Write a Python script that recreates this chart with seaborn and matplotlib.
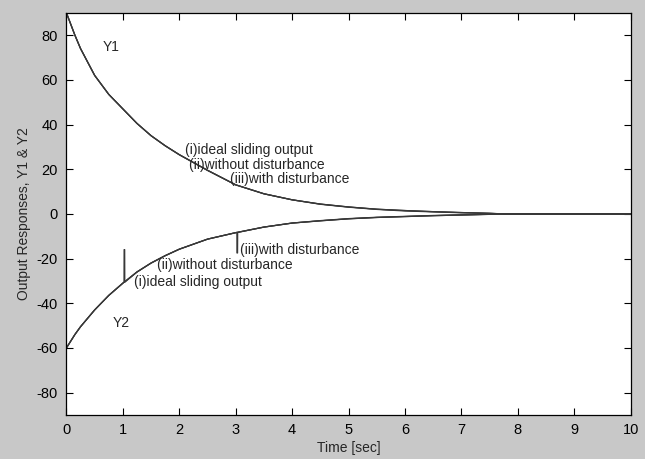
import matplotlib
matplotlib.use("Agg")
import matplotlib.pyplot as plt
import seaborn as sns
import pandas as pd

# ---- data ----
t = [0, 0.15, 0.25, 0.5, 0.75, 1.0, 1.25, 1.5, 1.75, 2.0, 2.5, 3.0, 3.5, 4.0,
     4.5, 5.0, 5.5, 6.0, 6.5, 7.0, 7.5, 7.75, 8.0, 9.0, 10.0]
y1_ideal = [90, 80, 74, 62, 53.5, 47, 40.5, 35, 30.5, 26.5, 19.5, 13, 9, 6.3,
            4.3, 3.0, 2.0, 1.3, 0.9, 0.5, 0.2, 0, 0, 0, 0]
y1_nodist = [90, 80, 74, 62, 53.5, 47, 40.5, 35, 30.5, 26.5, 19.5, 13, 9, 6.3,
             4.4, 3.1, 2.1, 1.5, 1.0, 0.6, 0.25, 0, 0, 0, 0]
y2_ideal = [-60, -54, -50.5, -43, -36.5, -31, -26, -22, -18.7, -15.8, -11.3,
            -8.4, -5.9, -4.1, -3.0, -2.1, -1.5, -1.1, -0.7, -0.4, -0.15, 0, 0, 0, 0]
y2_nodist = [-60, -54, -50.5, -43, -36.5, -31, -26, -22, -18.7, -15.8, -11.3,
             -8.4, -5.9, -4.1, -3.1, -2.2, -1.6, -1.2, -0.8, -0.5, -0.2, 0, 0, 0, 0]

# disturbance spikes (time, base value, peak value)
spike_t = [1.02, 3.02]
spike_base = [-30.6, -8.3]
spike_peak = [-16.0, -17.5]

x_ticks = [0, 1, 2, 3, 4, 5, 6, 7, 8, 9, 10]
y_ticks = [-80, -60, -40, -20, 0, 20, 40, 60, 80]

# with-disturbance series: curve with the spikes inserted
def with_spikes(tt, yy):
    ts, ys = [], []
    for a, b in zip(tt, yy):
        for st, sb, sp in zip(spike_t, spike_base, spike_peak):
            if ts and ts[-1] < st <= a:
                ts += [st, st + 0.002, st + 0.012, st + 0.014]
                ys += [sb, sp, sp, sb]
        ts.append(a)
        ys.append(b)
    return ts, ys

t_d, y2_dist = with_spikes(t, y2_nodist)
y1_dist = y1_nodist

frames = []
for name, tt, yy in [("Y1 ideal", t, y1_ideal), ("Y1 nodist", t, y1_nodist),
                     ("Y1 dist", t, y1_dist), ("Y2 ideal", t, y2_ideal),
                     ("Y2 nodist", t, y2_nodist), ("Y2 dist", t_d, y2_dist)]:
    frames.append(pd.DataFrame({"t": tt, "y": yy, "series": name}))
df = pd.concat(frames, ignore_index=True)

# ---- figure ----
sns.set_style("ticks")
plt.rcParams["font.family"] = ["Liberation Sans", "DejaVu Sans"]
plt.rcParams["axes.unicode_minus"] = False
bg = "#c8c8c8"
fig = plt.figure(figsize=(6.45, 4.59), dpi=100, facecolor=bg)
ax = fig.add_axes([0.103, 0.096, 0.875, 0.876])
ax.set_facecolor("white")

for name in df["series"].unique():
    sub = df[df["series"] == name]
    sns.lineplot(data=sub, x="t", y="y", ax=ax, color="#383838", lw=0.9,
                 estimator=None, sort=False, legend=False)

ax.set_xlim(0, 10)
ax.set_ylim(-90, 90)
ax.set_xticks(x_ticks)
ax.set_yticks(y_ticks)
ax.tick_params(direction="in", length=5, width=0.8, top=True, right=True,
               labelsize=10.5, pad=6, colors="black")
for s in ax.spines.values():
    s.set_linewidth(0.9)
    s.set_color("black")
    s.set_visible(True)

ax.set_xlabel("Time [sec]", fontsize=10, labelpad=3)
ax.set_ylabel("Output Responses, Y1 & Y2", fontsize=10, labelpad=4)

fs = 10
ax.text(0.65, 74.5, "Y1", fontsize=fs, va="center")
ax.text(0.82, -49, "Y2", fontsize=fs, va="center")
ax.text(2.1, 28.5, "(i)ideal sliding output", fontsize=fs, va="center")
ax.text(2.18, 22, "(ii)without disturbance", fontsize=fs, va="center")
ax.text(2.9, 15.5, "(iii)with disturbance", fontsize=fs, va="center")
ax.text(3.08, -16, "(iii)with disturbance", fontsize=fs, va="center")
ax.text(1.6, -23, "(ii)without disturbance", fontsize=fs, va="center")
ax.text(1.2, -30.5, "(i)ideal sliding output", fontsize=fs, va="center")

fig.savefig("out.png", dpi=100, facecolor=bg)
